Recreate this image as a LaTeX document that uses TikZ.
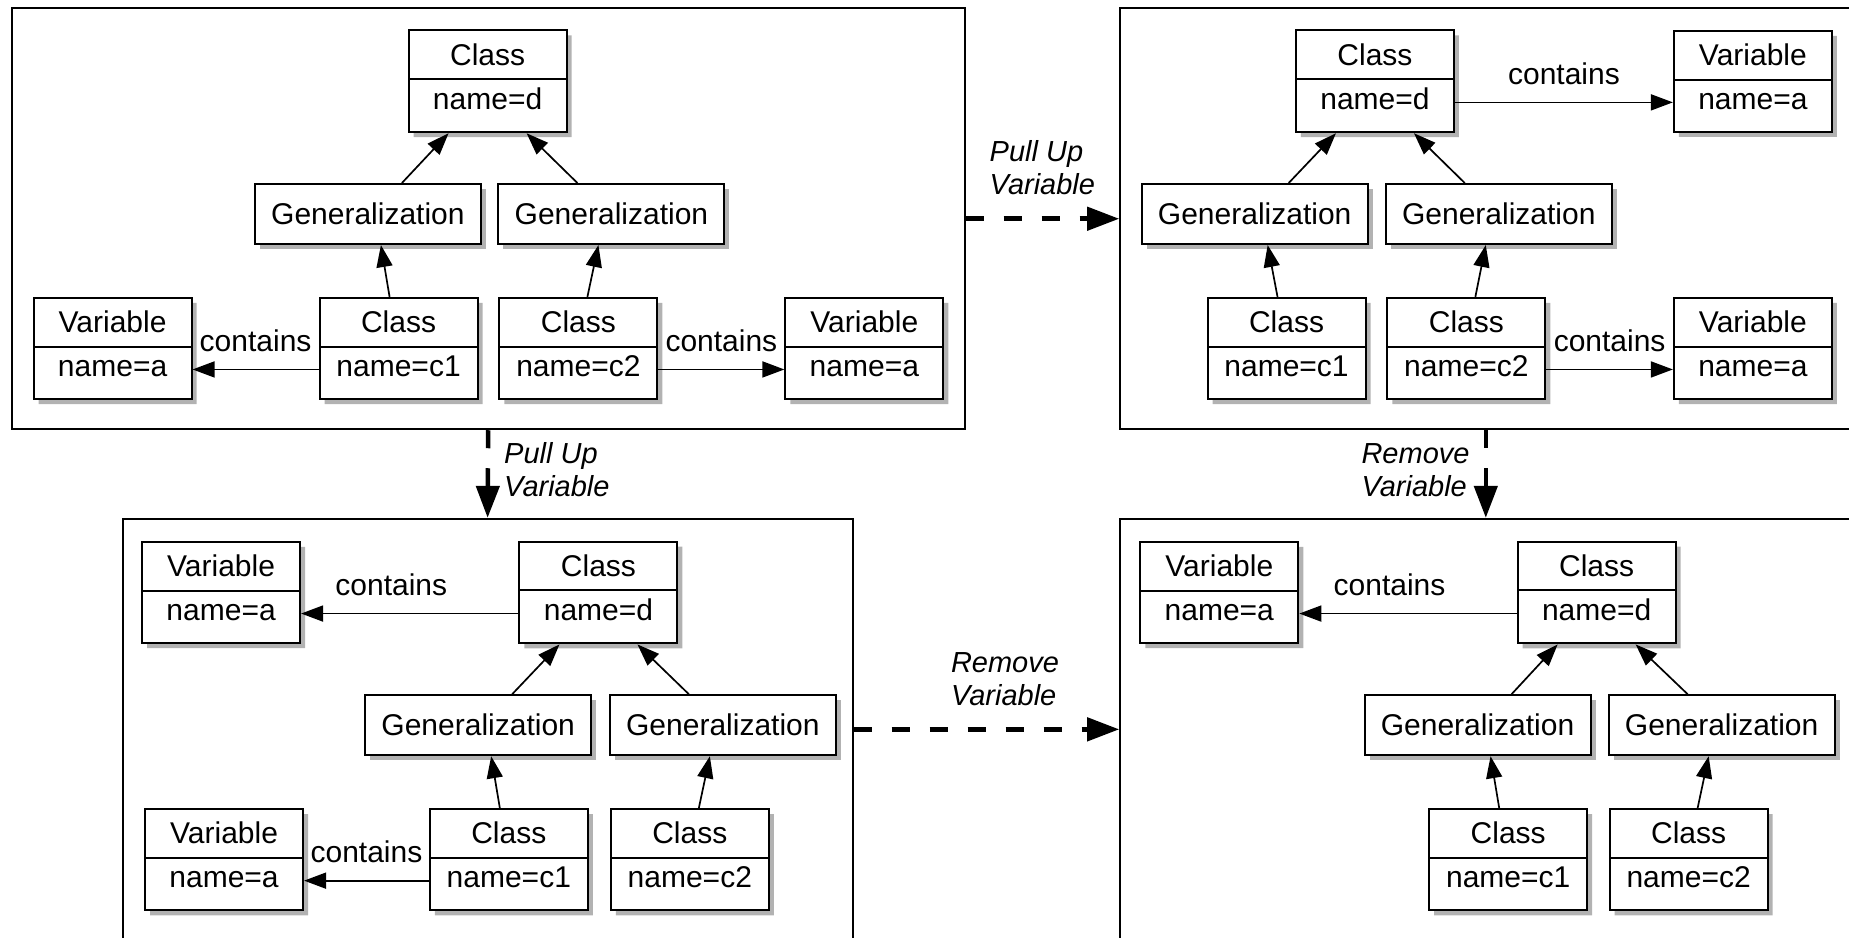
\documentclass[tikz,border=0pt]{standalone}
\usepackage{fontspec}
\setmainfont{Liberation Sans}
\usetikzlibrary{shapes.multipart, arrows.meta, shadows}
\tikzset{>={Triangle[length=11pt, width=8pt]}, % filled heads on all links
box/.style={draw, line width=1pt, fill=white,
  drop shadow={shadow xshift=2.5pt, shadow yshift=-2.5pt, opacity=0.3, fill=black}},
classbox/.style={box, rectangle split, rectangle split parts=2, minimum width=79pt, inner ysep=3.8pt, inner xsep=8pt}, % name on top, attribute below
genbox/.style={box, minimum width=113pt, minimum height=30pt, inner sep=0pt},
frame/.style={draw, line width=1pt, inner sep=0pt, minimum height=210.5pt},
link/.style={->, line width=0.85pt},
rel/.style={above=7.5pt, inner sep=1pt},
refactoring/.style={-{Triangle[length=16pt, width=11.5pt]}, line width=2.3pt, dash pattern=on 9pt off 10pt},
stepname/.style={font=\itshape\fontsize{14.5pt}{16.5pt}\selectfont, align=left, inner sep=1pt},
}
\newcommand{\topstrut}{\rule[-2.8pt]{0pt}{15.8pt}}
\newcommand{\botstrut}{\rule[-7pt]{0pt}{17.6pt}}
\newcommand{\umlobj}[2]{\topstrut #1\nodepart{two}\botstrut #2}

\begin{document}
\begin{tikzpicture}[x=0.5896pt, y=-0.5896pt, font=\fontsize{15pt}{18pt}\selectfont]
    \useasboundingbox (0,0) rectangle (1568,795);
    \clip (0,0) rectangle (1568,795);
    % the four models
    \node[frame, minimum width=476.4pt] (tl) at (414,185.5) {};
    \node[frame, minimum width=365.6pt] (tr) at (1260,185.5) {};
    \node[frame, minimum width=365pt] (bl) at (413.5,618.5) {};
    \node[frame, minimum width=365.6pt] (br) at (1260,618.5) {};

    % top left: variable in both subclasses
    \node[classbox] (tlD) at (413.5,69) {\umlobj{Class}{name=d}};
    \node[genbox] (tlGl) at (312,181.5) {Generalization};
    \node[genbox] (tlGr) at (518.5,181.5) {Generalization};
    \node[classbox] (tlV1) at (95.5,295.5) {\umlobj{Variable}{name=a}};
    \node[classbox] (tlC1) at (338,295.5) {\umlobj{Class}{name=c1}};
    \node[classbox] (tlC2) at (490.5,295.5) {\umlobj{Class}{name=c2}};
    \node[classbox] (tlV2) at (733,295.5) {\umlobj{Variable}{name=a}};
    \draw[link] ([xshift=17pt]tlGl.north) -- ([xshift=-19.5pt]tlD.south);
    \draw[link] ([xshift=-17pt]tlGr.north) -- ([xshift=19.5pt]tlD.south);
    \draw[link] ([xshift=-4.5pt]tlC1.north) -- ([xshift=6.5pt]tlGl.south);
    \draw[link] ([xshift=4.5pt]tlC2.north) -- ([xshift=-6.5pt]tlGr.south);
    \draw[link] ([yshift=-10.5pt]tlC1.west) -- node[rel]{contains} ([yshift=-10.5pt]tlV1.east);
    \draw[link] ([yshift=-10.5pt]tlC2.east) -- node[rel]{contains} ([yshift=-10.5pt]tlV2.west);

    % top right: pulled up, c2 still holds its own
    \node[classbox] (trD) at (1166,69) {\umlobj{Class}{name=d}};
    \node[classbox] (trV0) at (1486.5,69) {\umlobj{Variable}{name=a}};
    \node[genbox] (trGl) at (1064,181.5) {Generalization};
    \node[genbox] (trGr) at (1271,181.5) {Generalization};
    \node[classbox] (trC1) at (1091,295.5) {\umlobj{Class}{name=c1}};
    \node[classbox] (trC2) at (1243.5,295.5) {\umlobj{Class}{name=c2}};
    \node[classbox] (trV2) at (1486.5,295.5) {\umlobj{Variable}{name=a}};
    \draw[link] ([xshift=17pt]trGl.north) -- ([xshift=-19.5pt]trD.south);
    \draw[link] ([xshift=-17pt]trGr.north) -- ([xshift=19.5pt]trD.south);
    \draw[link] ([xshift=-4.5pt]trC1.north) -- ([xshift=6.5pt]trGl.south);
    \draw[link] ([xshift=4.5pt]trC2.north) -- ([xshift=-6.5pt]trGr.south);
    \draw[link] ([yshift=-10.5pt]trD.east) -- node[rel]{contains} ([yshift=-10.5pt]trV0.west);
    \draw[link] ([yshift=-10.5pt]trC2.east) -- node[rel]{contains} ([yshift=-10.5pt]trV2.west);

    % bottom left: pulled up, c1 still holds its own
    \node[classbox] (blV0) at (187.5,502.5) {\umlobj{Variable}{name=a}};
    \node[classbox] (blD) at (507.5,502.5) {\umlobj{Class}{name=d}};
    \node[genbox] (blGl) at (405.5,615) {Generalization};
    \node[genbox] (blGr) at (613,615) {Generalization};
    \node[classbox] (blV1) at (190,729) {\umlobj{Variable}{name=a}};
    \node[classbox] (blC1) at (431.5,729) {\umlobj{Class}{name=c1}};
    \node[classbox] (blC2) at (585,729) {\umlobj{Class}{name=c2}};
    \draw[link] ([xshift=17pt]blGl.north) -- ([xshift=-19.5pt]blD.south);
    \draw[link] ([xshift=-17pt]blGr.north) -- ([xshift=19.5pt]blD.south);
    \draw[link] ([xshift=-4.5pt]blC1.north) -- ([xshift=6.5pt]blGl.south);
    \draw[link] ([xshift=4.5pt]blC2.north) -- ([xshift=-6.5pt]blGr.south);
    \draw[link] ([yshift=-10.5pt]blD.west) -- node[rel, pos=0.585]{contains} ([yshift=-10.5pt]blV0.east);
    \draw[link] ([yshift=-10.5pt]blC1.west) -- node[rel]{contains} ([yshift=-10.5pt]blV1.east);

    % bottom right: result
    \node[classbox] (brV0) at (1034,502.5) {\umlobj{Variable}{name=a}};
    \node[classbox] (brD) at (1354,502.5) {\umlobj{Class}{name=d}};
    \node[genbox] (brGl) at (1253,615) {Generalization};
    \node[genbox] (brGr) at (1460,615) {Generalization};
    \node[classbox] (brC1) at (1279,729) {\umlobj{Class}{name=c1}};
    \node[classbox] (brC2) at (1432,729) {\umlobj{Class}{name=c2}};
    \draw[link] ([xshift=17pt]brGl.north) -- ([xshift=-19.5pt]brD.south);
    \draw[link] ([xshift=-17pt]brGr.north) -- ([xshift=19.5pt]brD.south);
    \draw[link] ([xshift=-4.5pt]brC1.north) -- ([xshift=6.5pt]brGl.south);
    \draw[link] ([xshift=4.5pt]brC2.north) -- ([xshift=-6.5pt]brGr.south);
    \draw[link] ([yshift=-10.5pt]brD.west) -- node[rel, pos=0.585]{contains} ([yshift=-10.5pt]brV0.east);

    % refactoring steps
    \draw[refactoring] (tl.east) -- node[stepname, above=9.6pt]{Pull Up\\Variable} (tr.west);
    \draw[refactoring] (tl.south) -- node[stepname, pos=0.45, right=6pt]{Pull Up\\Variable} (bl.north);
    \draw[refactoring] (tr.south) -- node[stepname, pos=0.45, left=6pt]{Remove\\Variable} (br.north);
    \draw[refactoring] (bl.east) -- node[stepname, pos=0.57, above=9.6pt]{Remove\\Variable} (br.west);
\end{tikzpicture}
\end{document}
